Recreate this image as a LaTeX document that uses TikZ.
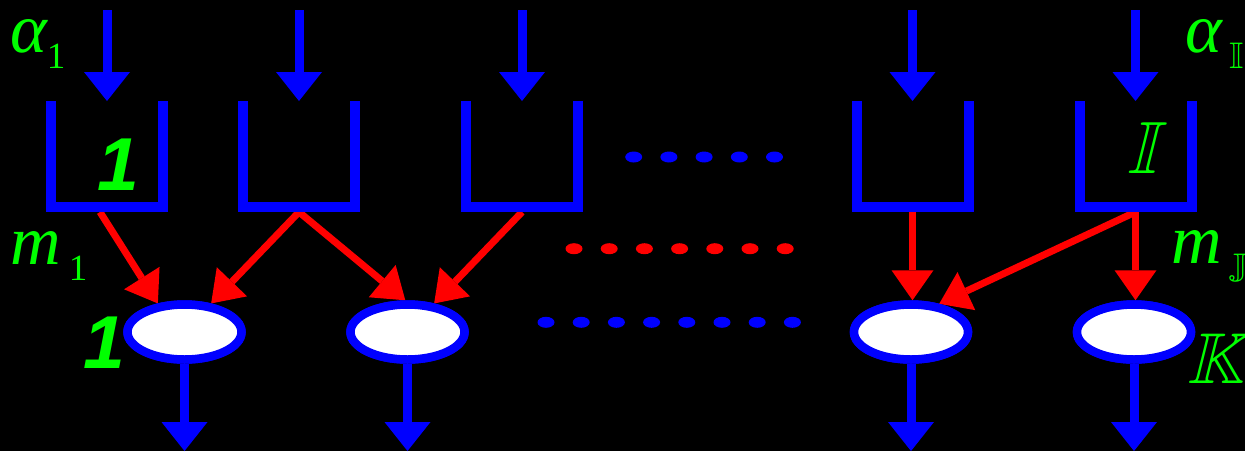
\documentclass[tikz,border=0pt]{standalone}
\usepackage{fontspec}
\usepackage{amssymb}
\setmainfont{Liberation Serif}
\newfontfamily\numfont{Liberation Sans}
\usetikzlibrary{arrows.meta,shapes.geometric}
\newcommand{\labbig}{\fontsize{70}{70}\selectfont}
\newcommand{\labsub}{\fontsize{37}{37}\selectfont}

\begin{document}
\begin{tikzpicture}[x=1pt,y=-1pt,
    feed/.style={draw=qblue, line width=9pt, -{Triangle[width=46pt,length=29pt,line width=0pt]}},
    route/.style={draw=qred, line width=7pt, -{Triangle[width=42pt,length=30pt,line width=0pt]}},
    bucket/.style={draw=qblue, line width=10pt, line join=miter},
    server/.style={ellipse, draw=qblue, fill=white, line width=8.5pt, minimum width=114pt, minimum height=55pt, inner sep=0pt},
    lbl/.style={text=qgreen, inner sep=0pt, anchor=base west},
    num/.style={text=qgreen, inner sep=0pt, anchor=base, font={\numfont\bfseries\itshape\fontsize{75}{75}\selectfont}}]
    % Define colors
    \definecolor{qblue}{RGB}{0,0,255}
    \definecolor{qred}{RGB}{255,0,0}
    \definecolor{qgreen}{RGB}{0,255,0}

    % Draw background
    \fill[black] (0,0) rectangle (1245,451);
    \useasboundingbox (0,0) rectangle (1245,451);

    % Queues and servers
    \foreach \x [count=\i] in {107,299,522,912.5,1135.5} {
        \coordinate (top\i) at (\x,10);
        \coordinate (in\i) at (\x,101);
        \coordinate (b\i) at (\x,212);
    }
    \foreach \x [count=\i] in {184.5,407.5,911,1134} {
        \node[server] (e\i) at (\x,332) {};
        \coordinate (out\i) at (\x,451);
    }

    % Routing arrows
    \draw[route] ([xshift=-7pt]b1) -- (e1.133);
    \draw[route] (b2) -- (e1.47);
    \draw[route] (b2) -- (e2.94);
    \draw[route] (b3) -- (e2.47);
    \draw[route] (b4) -- (b4 |- e3.north);
    \draw[route] (b5) -- (e3.45);
    \draw[route] (b5) -- (b5 |- e4.north);

    % Draw buckets with arrivals
    \foreach \x [count=\i] in {107,299,522,912.5,1135.5} {
        \draw[bucket] (\x-56,101) -- (\x-56,207) -- (\x+56,207) -- (\x+56,101);
        \draw[feed] (top\i) -- (in\i);
    }

    % Servers with departures
    \foreach \i in {1,...,4} {
        \node[server] at (e\i) {};
        \draw[feed] (e\i) -- (out\i);
    }

    % Dots
    \foreach \i in {0,...,4} \fill[qblue] (633.7+35.2*\i,157) ellipse (8.5 and 5.5);
    \foreach \i in {0,...,6} \fill[qred] (574+35.2*\i,248.7) ellipse (8.5 and 5.5);
    \foreach \i in {0,...,7} \fill[qblue] (546+35.2*\i,322.3) ellipse (8.5 and 5.5);

    % Labels
    \node[lbl] (a1) at (10,52) {{\labbig\itshape α}\raisebox{-16pt}{\labsub 1}};
    \node[lbl] (m1) at (10,264) {{\labbig\itshape m}\hspace{8pt}\raisebox{-16pt}{\labsub 1}};
    \node[lbl] (aI) at (1185,52) {{\labbig\itshape α}\hspace{8pt}\raisebox{-16pt}{\labsub$\mathbb{I}$}};
    \node[lbl] (mJ) at (1171,263) {{\labbig\itshape m}\hspace{8pt}\raisebox{-16pt}{\labsub$\mathbb{J}$}};
    \node[num] (q1) at (118,190) {1};
    \node[num] (s1) at (104,368) {1};
    \node[lbl, anchor=base, xslant=0.25] (qI) at (1142,173) {\fontsize{74}{74}\selectfont$\mathbb{I}$};
    \node[lbl, xslant=0.25] (sK) at (1187,383) {\fontsize{72}{72}\selectfont$\mathbb{K}$};
\end{tikzpicture}
\end{document}
